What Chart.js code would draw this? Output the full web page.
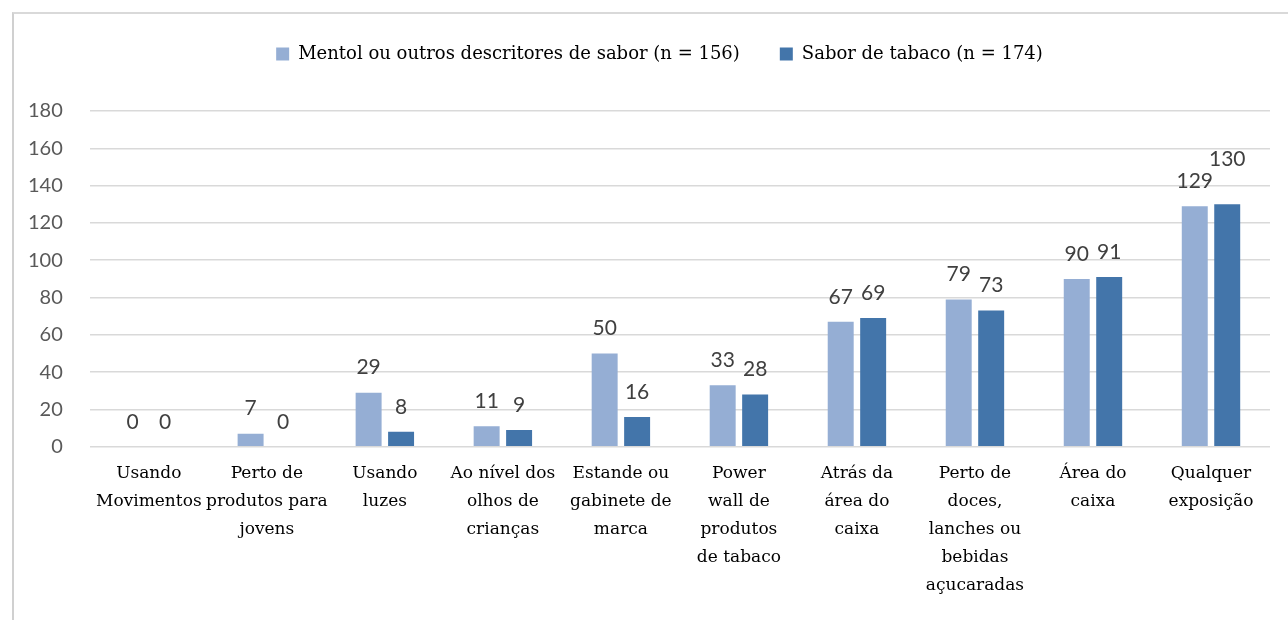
<!DOCTYPE html>
<html>
<head>
<meta charset="utf-8">
<script src="https://cdn.jsdelivr.net/npm/chart.js@4"></script>
<style>
  html, body { margin: 0; padding: 0; background: #fff; overflow: hidden; }
  #frame {
    position: absolute; left: 12px; top: 12px; width: 1300px; height: 640px;
    border-left: 2px solid #d0d0d0; border-top: 2px solid #d9d9d9;
  }
  #wrap { position: absolute; left: 0; top: 0; width: 1288px; height: 620px; }
</style>
</head>
<body>
<div id="frame"></div>
<div id="wrap"><canvas id="barChart"></canvas></div>
<script>
var categories = [
  ['Usando', 'Movimentos'],
  ['Perto de', 'produtos para', 'jovens'],
  ['Usando', 'luzes'],
  ['Ao nível dos', 'olhos de', 'crianças'],
  ['Estande ou', 'gabinete de', 'marca'],
  ['Power', 'wall de', 'produtos', 'de tabaco'],
  ['Atrás da', 'área do', 'caixa'],
  ['Perto de', 'doces,', 'lanches ou', 'bebidas', 'açucaradas'],
  ['Área do', 'caixa'],
  ['Qualquer', 'exposição']
];
var mentolValues = [0, 7, 29, 11, 50, 33, 67, 79, 90, 129];
var tabacoValues = [0, 0, 8, 9, 16, 28, 69, 73, 91, 130];
var seriesNames = ['Mentol ou outros descritores de sabor (n = 156)', 'Sabor de tabaco (n = 174)'];

document.addEventListener('DOMContentLoaded', function() {

  // value labels above the bars, pushed up if they bump into a neighbour
  var valueLabels = {
    id: 'valueLabels',
    afterDatasetsDraw: function(chart) {
      var ctx = chart.ctx;
      ctx.save();
      ctx.font = '21px Lato';
      ctx.fillStyle = '#404040';
      ctx.textAlign = 'center';
      ctx.textBaseline = 'middle';
      var placed = [];
      var n = chart.data.labels.length;
      for (var i = 0; i < n; i++) {
        chart.data.datasets.forEach(function(ds, d) {
          var bar = chart.getDatasetMeta(d).data[i];
          var txt = String(ds.data[i]);
          var w = ctx.measureText(txt).width + 6;
          var y = bar.y - 25;
          var h = 22;
          for (var k = 0; k < placed.length; k++) {
            var p = placed[k];
            if (Math.abs(p.x - bar.x) < (p.w + w) / 2 && Math.abs(p.y - y) < h) {
              y = p.y - h;
            }
          }
          placed.push({ x: bar.x, y: y, w: w });
          ctx.fillText(txt, bar.x, y);
        });
      }
      ctx.restore();
    }
  };

  // extra room under the legend, and legend nudged right
  var legendSpace = {
    id: 'legendSpace',
    beforeInit: function(chart) {
      var fit = chart.legend.fit;
      chart.legend.fit = function() {
        fit.bind(chart.legend)();
        this.height += 38;
      };
    },
    afterLayout: function(chart) {
      chart.legend.left += 24;
      chart.legend.right += 24;
    }
  };

  var ctxBar = document.getElementById('barChart').getContext('2d');

  var dataBar = {
    labels: categories,
    datasets: [{
      label: seriesNames[0],
      data: mentolValues,
      backgroundColor: '#95aed4',
      categoryPercentage: 0.55,
      barPercentage: 0.8
    }, {
      label: seriesNames[1],
      data: tabacoValues,
      backgroundColor: '#4375aa',
      categoryPercentage: 0.55,
      barPercentage: 0.8
    }]
  };

  var optionsBar = {
    responsive: true,
    maintainAspectRatio: false,
    animation: false,
    layout: { padding: { top: 5, right: 18, bottom: 15, left: 1 } },
    plugins: {
      legend: {
        position: 'top',
        labels: {
          boxWidth: 13,
          boxHeight: 13,
          padding: 40,
          color: '#000',
          font: { family: 'DejaVu Serif', size: 18 }
        }
      },
      tooltip: { enabled: false }
    },
    scales: {
      x: {
        grid: { display: false },
        border: { display: false },
        ticks: {
          color: '#000',
          maxRotation: 0,
          autoSkip: false,
          padding: 5,
          font: { family: 'DejaVu Serif', size: 17, lineHeight: 1.65 }
        }
      },
      y: {
        min: 0,
        max: 180,
        grid: { color: '#d9d9d9', lineWidth: 1.5, drawTicks: false },
        border: { display: false },
        ticks: {
          stepSize: 20,
          padding: 27,
          color: '#595959',
          font: { family: 'Lato', size: 20 }
        }
      }
    }
  };

  new Chart(ctxBar, {
    type: 'bar',
    data: dataBar,
    options: optionsBar,
    plugins: [valueLabels, legendSpace]
  });
});
</script>
</body>
</html>
